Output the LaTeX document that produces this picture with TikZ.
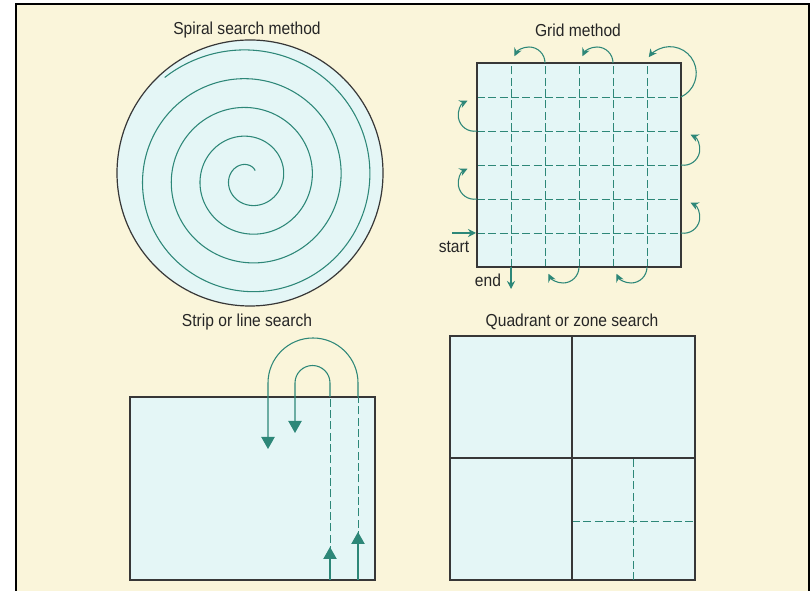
\documentclass[tikz,border=0pt]{standalone}
\usepackage{fontspec}
\setmainfont{Liberation Sans}[FakeStretch=0.9]
\usetikzlibrary{arrows.meta}
\definecolor{cream}{RGB}{250,245,218}
\definecolor{pale}{RGB}{228,246,246}
\definecolor{searchteal}{RGB}{45,135,120}
\definecolor{edge}{RGB}{55,55,55}
\begin{document}
\begin{tikzpicture}[x=0.75pt, y=0.75pt,
  title/.style={font=\fontsize{13}{15}\selectfont, text=black!85, inner sep=0pt},
  area/.style={draw=edge, fill=pale, line width=0.9pt},
  divide/.style={draw=edge, line width=0.9pt},
  track/.style={draw=searchteal, line width=0.8pt},
  sweep/.style={track, line width=0.7pt, dash pattern=on 6pt off 2.5pt},
  turn/.style={track, -{Stealth[length=6pt, width=6pt]}},
  marker/.style={track, -{Triangle[length=9pt, width=10pt]}}]

\useasboundingbox (0,0) rectangle (812,591);
\fill[cream] (16,0) rectangle (809,587);
\draw[line width=1.6pt] (16,0) -- (16,587) -- (809,587) -- (809,0);

% spiral search
\node[title] (spiraltitle) at (247,561) {Spiral search method};
\draw[area] (250,418) circle[radius=133];
\draw[track] plot[variable=\t, domain=50:1570, samples=500, smooth]
  ({249+(5.6+0.08*\t)*cos(\t)}, {413+(5.6+0.08*\t)*sin(\t)});

% grid method
\node[title] (gridtitle) at (578,561) {Grid method};
\draw[area] (477,324) rectangle (681,528);
\foreach \i in {1,...,5} {
  \draw[sweep] (477+34*\i,324) -- (477+34*\i,528);
  \draw[sweep] (477,324+34*\i) -- (681,324+34*\i);
}
\draw[area, fill=none] (477,324) rectangle (681,528);

\coordinate (in) at (452,358);
\coordinate (r5) at (681,358);
\coordinate (l4) at (477,392);
\coordinate (r3) at (681,426);
\coordinate (l2) at (477,460);
\coordinate (r1) at (681,494);
\coordinate (b5) at (647,324);
\coordinate (t4) at (613,528);
\coordinate (b3) at (579,324);
\coordinate (t2) at (545,528);
\coordinate (b1) at (511,324);

\draw[turn] (in) -- (476,358);
\draw[turn] (r5) arc[start angle=-100, end angle=65, radius=16];
\draw[turn] (l4) arc[start angle=-80, end angle=-245, radius=16];
\draw[turn] (r3) arc[start angle=-100, end angle=65, radius=16];
\draw[turn] (l2) arc[start angle=-80, end angle=-245, radius=16];
\draw[turn] (r1) arc[start angle=-65, end angle=143, radius=26.4];
\draw[turn] (b5) arc[start angle=0, end angle=-155, radius=16];
\draw[turn] (t4) arc[start angle=0, end angle=155, radius=16];
\draw[turn] (b3) arc[start angle=0, end angle=-155, radius=16];
\draw[turn] (t2) arc[start angle=0, end angle=155, radius=16];
\draw[turn] (b1) -- (511,302);

\node[title] (startlabel) at (454,344) {start};
\node[title] (endlabel) at (488,311) {end};

% strip or line search
\node[title] (striptitle) at (247,269) {Strip or line search};
\draw[area] (130,11) rectangle (375,194);
\draw[sweep] (358,52) -- (358,194);
\draw[sweep] (330,37) -- (330,194);
\draw[marker] (358,11) -- (358,59);
\draw[marker] (330,11) -- (330,44);
\draw[marker] (358,194) -- (358,208) arc[start angle=0, end angle=180, radius=45] -- (268,142);
\draw[marker] (330,194) -- (330,208) arc[start angle=0, end angle=180, radius=17.5] -- (295,158);

% quadrant or zone search
\node[title] (zonetitle) at (572,269) {Quadrant or zone search};
\draw[area] (450,11) rectangle (695,255);
\draw[sweep] (633,11) -- (633,133) (572,70) -- (695,70);
\draw[divide] (572,11) -- (572,255) (450,133) -- (695,133);

\end{tikzpicture}
\end{document}
